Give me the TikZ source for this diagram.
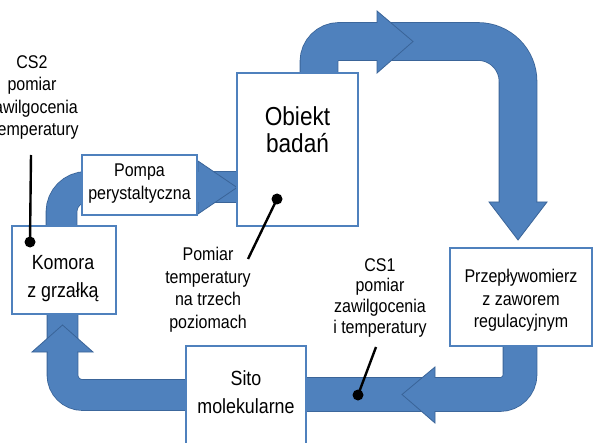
\documentclass[tikz,border=0pt]{standalone}
\usepackage{fontspec}
\setmainfont{Liberation Sans}[FakeStretch=0.87]
\definecolor{pipefill}{RGB}{79,129,189}
\definecolor{pipeout}{RGB}{58,100,152}
\definecolor{boxblue}{RGB}{79,129,189}
\tikzset{
  pipe/.style={draw=pipeout, line width=0.8pt, double=pipefill, double distance=#1},
  head/.style={fill=pipefill, draw=pipeout, line width=0.8pt, line join=miter},
  box/.style={draw=boxblue, line width=1.4pt, fill=white, inner sep=0pt, align=center},
  sm/.style={inner sep=0pt, align=center, font=\fontsize{18.4}{22.5}\selectfont},
  smb/.style={inner sep=0pt, align=center, font=\fontsize{18.4}{20.8}\selectfont},
  md/.style={inner sep=0pt, align=center, font=\fontsize{20.5}{28}\selectfont},
  lg/.style={inner sep=0pt, align=center, font=\fontsize{26}{27.5}\selectfont},
  dot/.style={circle, fill=black, inner sep=0pt, minimum size=11pt},
  lead/.style={draw=black, line width=2.4pt}
}
\begin{document}
\begin{tikzpicture}[x=1pt, y=-1pt]
\useasboundingbox (0,0) rectangle (593,443);
\clip (0,0) rectangle (593,443);

% top pipe: Obiekt -> Przeplywomierz
\draw[pipe=37pt] (319,90) -- (319,61.5) arc[start angle=180, end angle=270, radius=20]
  -- (478,41.5) arc[start angle=270, end angle=360, radius=40] -- (518,203);
\filldraw[head] (377,11) -- (413,41.5) -- (377,73) -- cycle;
\fill[pipefill] (375.6,23.3) rectangle (379,59.7);
\filldraw[head] (489,202) -- (547,202) -- (518,240) -- cycle;
\fill[pipefill] (499.7,200.6) rectangle (536.3,203.5);

% lower right pipe: Przeplywomierz -> Sito
\draw[pipe=33pt] (520,340) -- (520,374.5) arc[start angle=0, end angle=90, radius=20] -- (290,394.5);
\filldraw[head] (435,367) -- (402,394.5) -- (435,423) -- cycle;
\fill[pipefill] (433.6,378.3) rectangle (437,410.7);

% bottom left pipe: Sito -> Komora
\draw[pipe=30pt] (195,395) -- (82.5,395) arc[start angle=90, end angle=180, radius=20] -- (62.5,305);
\filldraw[head] (32,352) -- (62.5,325) -- (93,352) -- cycle;
\fill[pipefill] (47.8,350.6) rectangle (77.2,354);

% upper left pipe: Komora -> Pompa -> Obiekt
\draw[pipe=30pt] (61.5,235) -- (61.5,212) arc[start angle=180, end angle=270, radius=25] -- (245,187);
\filldraw[head] (198,161) -- (237,187.5) -- (198,214) -- cycle;
\fill[pipefill] (196.5,172.3) rectangle (200,201.7);

% boxes
\node[box, minimum width=121pt, minimum height=153pt] (obj) at (297.5,149.5) {};
\node[box, minimum width=115pt, minimum height=60pt] (pompa) at (139.5,185) {};
\node[box, minimum width=104pt, minimum height=88pt] (komora) at (64,270) {};
\node[box, minimum width=120pt, minimum height=114pt] (sito) at (246,403) {};
\node[box, minimum width=142pt, minimum height=98pt] (przep) at (521,297) {};

% texts
\node[lg, anchor=north] (objt) at (297.5,106) {Obiekt\\badań};
\node[sm, anchor=north] (pomt) at (139.5,164) {Pompa\\perystaltyczna};
\node[md, anchor=north] (komt) at (63,255) {Komora\\z grzałką};
\node[md, anchor=north] (sitt) at (246,370) {Sito\\molekularne};
\node[sm, anchor=north] (przt) at (521,269) {Przepływomierz\\z zaworem\\regulacyjnym};
\node[sm, anchor=north] (cs2) at (32,55) {CS2\\pomiar\\zawilgocenia\\i temperatury};
\node[sm, anchor=north] (ptemp) at (208,247) {Pomiar\\temperatury\\na trzech\\poziomach};
\node[smb, anchor=north] (cs1) at (380,258) {CS1\\pomiar\\zawilgocenia\\i temperatury};

% measurement leads
\node[dot] (d2) at (30,242) {};
\coordinate (l2) at (31,155);
\draw[lead] (l2) -- (d2.center);
\node[dot] (dt) at (277,199) {};
\coordinate (lt) at (248,259);
\draw[lead] (lt) -- (dt.center);
\node[dot] (d1) at (358,395) {};
\coordinate (l1) at (376,347);
\draw[lead] (l1) -- (d1.center);
\end{tikzpicture}
\end{document}
